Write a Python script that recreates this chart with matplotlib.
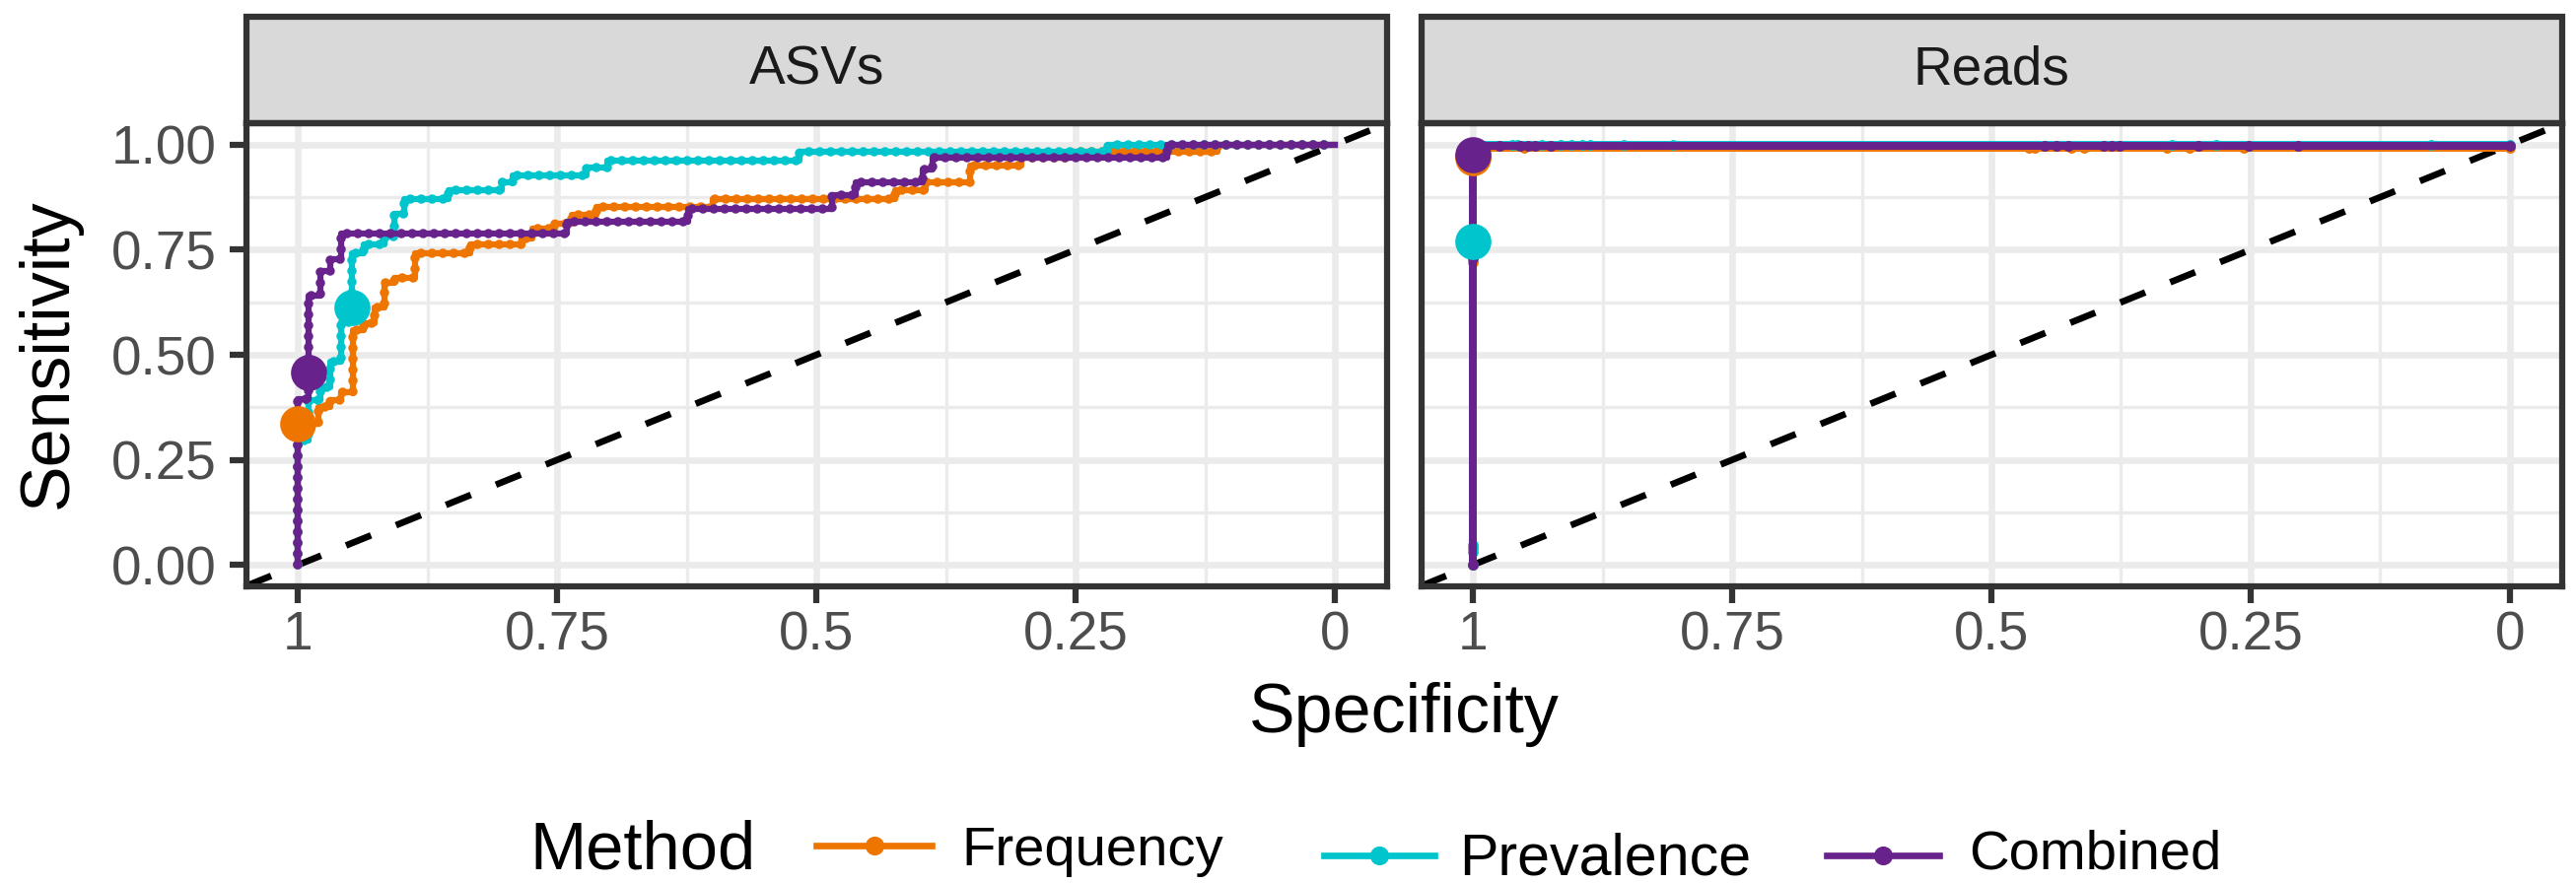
import matplotlib
matplotlib.use("Agg")
import matplotlib.pyplot as plt
from matplotlib.patches import Rectangle
from matplotlib.lines import Line2D

# ── Data (specificity, sensitivity); staircase points, steps-post ──────────
methods = ["Frequency", "Prevalence", "Combined"]
colors = ["#EE7600", "#00C5CD", "#68228B"]

asv_freq_spec = [1, 1, 0.980, 0.969, 0.958, 0.947, 0.937, 0.926, 0.917, 0.907, 0.887,
                 0.834, 0.784, 0.774, 0.752, 0.736, 0.7125, 0.600, 0.4245, 0.3944,
                 0.3517, 0.3026, 0.255, 0.113, 0]
asv_freq_sens = [0, 0.336, 0.375, 0.391, 0.410, 0.559, 0.574, 0.613, 0.672, 0.684, 0.742,
                 0.762, 0.777, 0.800, 0.8125, 0.834, 0.852, 0.871, 0.8906, 0.910,
                 0.949, 0.969, 0.982, 1.0, 1.0]

asv_prev_spec = [1, 1, 0.9896, 0.9785, 0.969, 0.958, 0.948, 0.937, 0.917, 0.907, 0.898,
                 0.855, 0.803, 0.793, 0.722, 0.7015, 0.516, 0.219, 0]
asv_prev_sens = [0, 0.297, 0.391, 0.422, 0.484, 0.578, 0.742, 0.762, 0.781, 0.836, 0.871,
                 0.891, 0.910, 0.926, 0.945, 0.963, 0.983, 1.0, 1.0]

asv_comb_spec = [1, 1, 0.9896, 0.9785, 0.969, 0.958, 0.741, 0.624, 0.4848, 0.4625,
                 0.3975, 0.388, 0.1617, 0]
asv_comb_sens = [0, 0.395, 0.641, 0.699, 0.727, 0.789, 0.8164, 0.848, 0.879, 0.910,
                 0.941, 0.969, 1.0, 1.0]

reads_freq_spec = [1, 1, 1, 1, 0.951, 0.464, 0.458, 0.423, 0.411, 0.331, 0.309, 0.257, 0]
reads_freq_sens = [0, 0.72, 0.94, 0.992, 0.992, 0.992, 0.992, 0.992, 0.992, 0.992,
                   0.992, 0.992, 0.992]

reads_prev_spec = [1, 1, 1, 1, 1, 0.962, 0.957, 0.934, 0.915, 0.905, 0.895, 0.887,
                   0.855, 0.807, 0.326, 0.283, 0.076, 0]
reads_prev_sens = [0, 0.03, 0.04, 0.047, 1.0, 1.0, 1.0, 1.0, 1.0, 1.0, 1.0, 1.0,
                   1.0, 1.0, 1.0, 1.0, 1.0, 1.0]

reads_comb_spec = [1, 1, 1, 1, 0.974, 0.954, 0.947, 0.940, 0.925, 0.449, 0.437, 0.426,
                   0.392, 0.384, 0.376, 0.300, 0.252, 0.204, 0]
reads_comb_sens = [0, 0.73, 0.95, 0.996, 0.996, 0.996, 0.996, 0.996, 0.996, 0.996,
                   0.996, 0.996, 0.996, 0.996, 0.996, 0.996, 0.996, 0.996, 0.996]

# chosen thresholds (big points)
asv_best_spec = [1.0, 0.948, 0.9896]
asv_best_sens = [0.336, 0.613, 0.457]
reads_best_spec = [1.0, 1.0, 1.0]
reads_best_sens = [0.969, 0.770, 0.977]

x_ticks = [1, 0.75, 0.5, 0.25, 0]
x_ticklabels = ["1", "0.75", "0.5", "0.25", "0"]
y_ticks = [0, 0.25, 0.5, 0.75, 1.0]
y_ticklabels = ["0.00", "0.25", "0.50", "0.75", "1.00"]
minor_ticks = [0.875, 0.625, 0.375, 0.125]

# ── Style ────────────────────────────────────────────────────────────────────
plt.rcParams["font.family"] = ["Liberation Sans", "DejaVu Sans"]
W, H = 2613, 896
DPI = 300
C_BORDER = "#333333"
C_GRID = "#EBEBEB"
C_TICKLAB = "#4D4D4D"

fig = plt.figure(figsize=(W / DPI, H / DPI), dpi=DPI)
fig.patch.set_facecolor("white")

ax_h = 469.2 / H
ax_b = 1 - 594.6 / H
ax_w = 1157 / W
axes = [fig.add_axes([249.7 / W, ax_b, ax_w, ax_h]),
        fig.add_axes([1441.5 / W, ax_b, ax_w, ax_h])]


def style_panel(ax, title, show_y):
    ax.set_xlim(1.05, -0.05)
    ax.set_ylim(-0.05, 1.05)
    for v in minor_ticks:
        ax.axvline(v, color=C_GRID, lw=0.8, zorder=0)
        ax.axhline(v, color=C_GRID, lw=0.8, zorder=0)
    for v in x_ticks:
        ax.axvline(v, color=C_GRID, lw=1.6, zorder=0)
    for v in y_ticks:
        ax.axhline(v, color=C_GRID, lw=1.6, zorder=0)
    ax.set_xticks(x_ticks)
    ax.set_xticklabels(x_ticklabels)
    ax.set_yticks(y_ticks)
    ax.set_yticklabels(y_ticklabels if show_y else [])
    ax.tick_params(length=4.1, width=1.5, color=C_BORDER, labelcolor=C_TICKLAB,
                   labelsize=13.2, pad=3.2)
    ax.tick_params(axis="x", pad=1.8)
    if not show_y:
        ax.tick_params(axis="y", length=0)
    for s in ax.spines.values():
        s.set_color(C_BORDER)
        s.set_linewidth(1.5)
        s.set_zorder(10)
    # diagonal reference
    ax.plot([1.05, -0.05], [-0.05, 1.05], color="black", lw=1.6,
            ls=(0, (4.1, 4.1)), zorder=2)
    # facet strip
    sh = 108 / 469.2
    ax.add_patch(Rectangle((0, 1), 1, sh, transform=ax.transAxes, facecolor="#D9D9D9",
                           edgecolor=C_BORDER, lw=1.5, clip_on=False, zorder=5))
    ax.text(0.5, 1 + sh / 2, title, transform=ax.transAxes, ha="center", va="center",
            fontsize=13.2, color="#1A1A1A", zorder=6)


style_panel(axes[0], "ASVs", True)
style_panel(axes[1], "Reads", False)

# ── ASVs curves: line with beaded threshold points ──────────────────────────
ax = axes[0]
asv_curves = [(asv_freq_spec, asv_freq_sens), (asv_prev_spec, asv_prev_sens),
              (asv_comb_spec, asv_comb_sens)]
for (sx, sy), c in zip(asv_curves, colors):
    ax.plot(sx, sy, drawstyle="steps-post", color=c, lw=1.5, zorder=3)
    ax.plot(sx, sy, drawstyle="steps-post", color=c, lw=2.3, zorder=3,
            ls=(0, (0.001, 1.15)), dash_capstyle="round")
for x, y, c in zip(asv_best_spec, asv_best_sens, colors):
    ax.plot(x, y, "o", color=c, ms=8.8, mec="none", zorder=4)

# ── Reads curves: dense thresholds form a thick line ────────────────────────
ax = axes[1]
reads_curves = [(reads_freq_spec, reads_freq_sens), (reads_prev_spec, reads_prev_sens),
                (reads_comb_spec, reads_comb_sens)]
for (sx, sy), c in zip(reads_curves, colors):
    ax.plot(sx, sy, drawstyle="steps-post", color=c, lw=1.9, zorder=3,
            solid_capstyle="round")
    ax.plot(sx, sy, "o", color=c, ms=2.6, mec="none", zorder=3)
for x, y, c in zip(reads_best_spec, reads_best_sens, colors):
    ax.plot(x, y, "o", color=c, ms=8.8, mec="none", zorder=4)

# ── Axis titles ──────────────────────────────────────────────────────────────
fig.text(1424 / W, 1 - 725 / H, "Specificity", ha="center", va="center", fontsize=16.8)
fig.text(50 / W, 1 - 359 / H, "Sensitivity", ha="center", va="center", fontsize=16.8,
         rotation=90)

# ── Legend (bottom, horizontal) ──────────────────────────────────────────────
fig.text(537 / W, 1 - 881 / H, "Method", ha="left", va="baseline", fontsize=16.5)
key_x = [(828, 945), (1343, 1455), (1853, 1967)]
key_y = [858, 868, 868]
lab_x = [975, 1480, 1997]
lab_base = [878, 887, 882]
lab_size = [13.5, 14.2, 13.5]
for (x0, x1), ky, lx, lb, fs, lab, c in zip(key_x, key_y, lab_x, lab_base, lab_size,
                                            methods, colors):
    fig.add_artist(Line2D([x0 / W, x1 / W], [1 - ky / H, 1 - ky / H], color=c, lw=1.6))
    fig.add_artist(Line2D([(x0 + x1) / 2 / W], [1 - ky / H], marker="o", color=c,
                          ms=4.6, mec="none"))
    fig.text(lx / W, 1 - lb / H, lab, ha="left", va="baseline", fontsize=fs)

fig.savefig("out.png", dpi=DPI, facecolor="white")
